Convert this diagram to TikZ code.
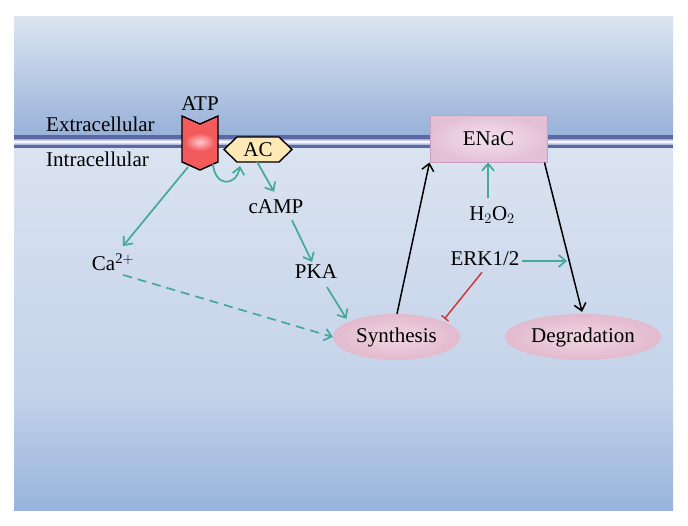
\documentclass[tikz,border=0pt]{standalone}
\usepackage{fontspec}
\setmainfont{Liberation Serif}
\usetikzlibrary{arrows.meta,shapes.geometric}
\definecolor{tealc}{HTML}{45A99A}
\definecolor{redc}{HTML}{D0393C}
\definecolor{atpred}{HTML}{F25A5C}
\definecolor{acfill}{HTML}{FDE8B6}
\definecolor{memdark}{HTML}{5A69A6}
\definecolor{memmid}{HTML}{A3ACD4}
\definecolor{pinkin}{HTML}{F3E1EC}
\definecolor{pinkout}{HTML}{E4C0D7}
\definecolor{pinkedge}{HTML}{C99CC2}
\definecolor{ellin}{HTML}{F0D5E2}
\definecolor{ellout}{HTML}{E2BACD}
\begin{document}
\begin{tikzpicture}[x=1pt,y=-1pt,
  font=\fontsize{21}{24}\selectfont,
  lbl/.style={inner sep=1pt},
  tarrow/.style={draw=tealc,line width=1.7pt,-{Straight Barb[length=7pt,width=12pt]}},
  karrow/.style={draw=black,line width=1.5pt,-{Straight Barb[length=7pt,width=12pt]}},
  inhib/.style={draw=redc,line width=1.5pt,-{Bar[width=9pt]}},
  pinkell/.style={ellipse,shading=radial,inner color=ellin,outer color=ellout,draw=none,minimum height=46pt}
]
\useasboundingbox (0,0) rectangle (688,525);
\fill[white] (0,0) rectangle (688,525);
% background panels
\shade[top color={rgb,255:red,220;green,229;blue,241},middle color={rgb,255:red,206;green,218;blue,237},bottom color={rgb,255:red,152;green,177;blue,216}] (14,16) rectangle (673,136);
\shade[top color={rgb,255:red,218;green,227;blue,240},bottom color={rgb,255:red,196;green,211;blue,234}] (14,147) rectangle (673,390);
\shade[top color={rgb,255:red,196;green,211;blue,234},bottom color={rgb,255:red,152;green,180;blue,219}] (14,389.5) rectangle (673,510);
% membrane
\fill[memdark] (14,135) rectangle (673,139);
\shade[top color=memmid,bottom color=white] (14,139) rectangle (673,141.5);
\shade[top color=white,bottom color=memmid] (14,141.5) rectangle (673,144.5);
\fill[memdark] (14,144.5) rectangle (673,148);
% texts
\node[lbl,anchor=west] (ext) at (45,124) {Extracellular};
\node[lbl,anchor=west] (int) at (45,159) {Intracellular};
\node[lbl] (atp) at (200,104) {ATP};
% ATP receptor
\coordinate (atpbl) at (188,167);
\coordinate (atpbr) at (213,164);
\begin{scope}
\clip (182,116) -- (200,124) -- (218,116) -- (218,162) -- (200,170) -- (182,162) -- cycle;
\fill[atpred] (180,110) rectangle (220,172);
\shade[inner color={rgb,255:red,255;green,200;blue,205},outer color=atpred] (200,142) ellipse (15 and 9);
\end{scope}
\draw[line width=1.4pt,line join=miter] (182,116) -- (200,124) -- (218,116) -- (218,162) -- (200,170) -- (182,162) -- cycle;
% AC
\draw[fill=acfill,line width=1.4pt] (224,149.5) -- (237,137) -- (279,137) -- (292,149.5) -- (279,162) -- (237,162) -- cycle;
\node[lbl] (ac) at (258,149.5) {AC};
\coordinate (acb) at (240,166);
% ENaC
\node[draw=pinkedge,line width=1pt,shading=radial,inner color=pinkin,outer color=pinkout,minimum width=117pt,minimum height=47pt] (enac) at (488.5,138.5) {ENaC};
% other labels
\node[lbl] (camp) at (276,207) {cAMP};
\node[lbl] (pka) at (316,272) {PKA};
\node[lbl] (ca) at (113,262) {Ca$^{\mathrm{2+}}$};
\node[lbl] (h2o2) at (492,215) {H$_2$O$_2$};
\node[lbl] (erk) at (485,259) {ERK1/2};
\coordinate (erkend) at (567,261);
\node[pinkell,minimum width=127pt] (syn) at (396.5,337) {Synthesis};
\node[pinkell,minimum width=146pt] (deg) at (583,337) {Degradation};
% connectors
\draw[tarrow] (atpbr) .. controls (215,187) and (236,187) .. (acb);
\draw[tarrow] ([shift={(-1,4)}]ac.south) -- ([shift={(-2,-7)}]camp.north);
\draw[tarrow] ([shift={(16,5)}]camp.south) -- ([shift={(-4,-2)}]pka.north);
\draw[tarrow] ([shift={(11,7)}]pka.south) -- ([shift={(-50,5)}]syn.north);
\draw[tarrow] (atpbl) -- ([shift={(10,-6)}]ca.north);
\draw[tarrow,dash pattern=on 9pt off 6pt] ([shift={(-12,3)}]ca.south east) -- (syn.west);
\draw[tarrow] ([shift={(-4,-7)}]h2o2.north) -- (enac.south -| 488,0);
\draw[tarrow] ([shift={(1,2)}]erk.east) -- (erkend);
\draw[inhib] ([shift={(-3,5)}]erk.south) -- ([shift={(48,5)}]syn.north);
\draw[karrow] ([shift={(0.5,0)}]syn.north) -- (enac.south west);
\draw[karrow] ([shift={(-3,0)}]enac.south east) -- ([shift={(-1,-2)}]deg.north);
\end{tikzpicture}
\end{document}
